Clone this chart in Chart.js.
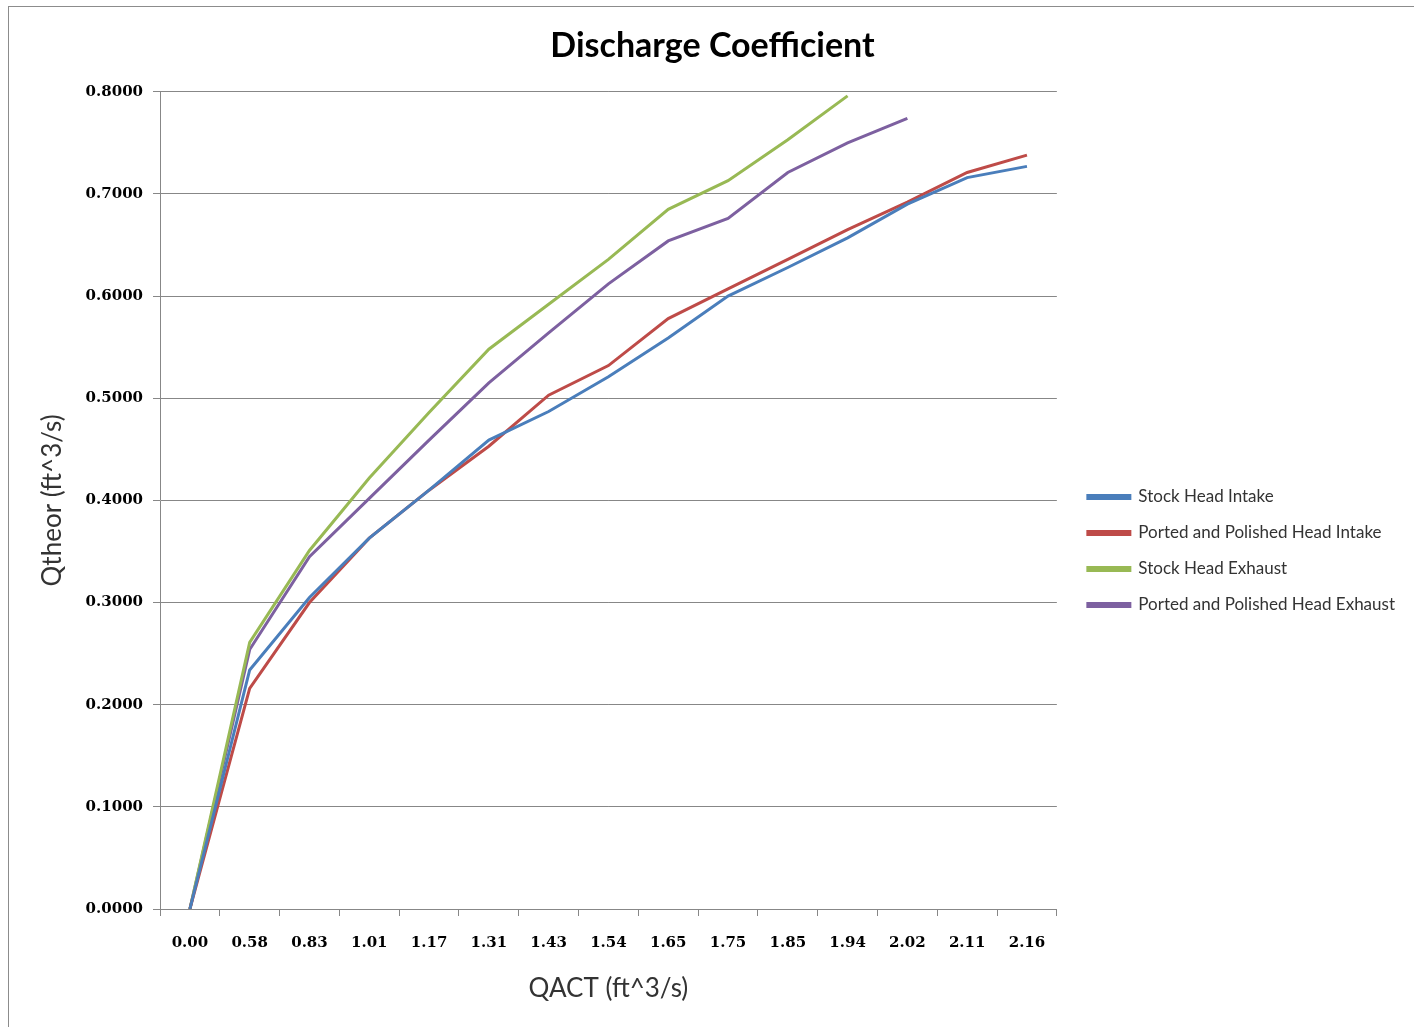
<!DOCTYPE html>
<html>
<head>
<meta charset="utf-8">
<title>Discharge Coefficient</title>
<script src="https://cdn.jsdelivr.net/npm/chart.js@4/dist/chart.umd.min.js"></script>
<style>
  body { margin: 0; background: #fff; }
  #wrap { position: relative; width: 1414px; height: 1027px; }
  #frame { position: absolute; left: 8px; top: 6px; width: 1420px; height: 1030px;
           border-left: 1px solid #8c8c8c; border-top: 1px solid #8c8c8c; pointer-events: none; }
</style>
</head>
<body>
<div id="wrap">
  <canvas id="dc-chart" width="1414" height="1027"></canvas>
  <div id="frame"></div>
</div>
<script>
// chart values
var qact = ["0.00", "0.58", "0.83", "1.01", "1.17", "1.31", "1.43", "1.54", "1.65", "1.75", "1.85", "1.94", "2.02", "2.11", "2.16"];
var stockIntake = [0, 0.234, 0.305, 0.363, 0.410, 0.459, 0.487, 0.521, 0.559, 0.600, 0.628, 0.657, 0.690, 0.716, 0.727];
var portedIntake = [0, 0.216, 0.300, 0.363, 0.410, 0.453, 0.503, 0.532, 0.578, 0.607, 0.636, 0.665, 0.692, 0.721, 0.738];
var stockExhaust = [0, 0.261, 0.351, 0.422, 0.486, 0.548, 0.592, 0.636, 0.685, 0.713, 0.753, 0.796, null, null, null];
var portedExhaust = [0, 0.254, 0.345, 0.402, 0.459, 0.515, 0.564, 0.612, 0.654, 0.676, 0.721, 0.750, 0.774, null, null];
var yTicks = [0, 0.1, 0.2, 0.3, 0.4, 0.5, 0.6, 0.7, 0.8];

var gridColor = "#878787";

function series(label, data, color) {
  return {
    label: label,
    data: data,
    borderColor: color,
    backgroundColor: color,
    borderWidth: 3,
    pointRadius: 0,
    tension: 0,
    spanGaps: false
  };
}

// nudge legend and title sideways, like the original
var boxNudge = {
  id: 'boxNudge',
  afterLayout: function (chart) {
    if (chart.legend) {
      chart.legend.left += 12;
      chart.legend.right += 12;
    }
    if (chart.titleBlock) {
      chart.titleBlock.left += 16;
      chart.titleBlock.right += 16;
    }
  }
};

var ctx = document.getElementById("dc-chart");
var dcChart = new Chart(ctx, {
  type: 'line',
  data: {
    labels: qact,
    datasets: [
      series('Stock Head Intake', stockIntake, "#4a7ebb"),
      series('Ported and Polished Head Intake', portedIntake, "#be4b48"),
      series('Stock Head Exhaust', stockExhaust, "#98b954"),
      series('Ported and Polished Head Exhaust', portedExhaust, "#7d60a0")
    ]
  },
  plugins: [boxNudge],
  options: {
    responsive: false,
    animation: false,
    layout: {
      padding: { left: 0, right: 21, top: 0, bottom: 0 }
    },
    scales: {
      x: {
        type: 'category',
        offset: true,
        grid: {
          offset: true,
          drawOnChartArea: false,
          drawTicks: true,
          tickLength: 7,
          color: gridColor
        },
        border: { display: true, color: gridColor },
        ticks: {
          padding: 18,
          color: "#000",
          maxRotation: 0,
          autoSkip: false,
          font: { family: "DejaVu Serif", size: 15, weight: 'bold' }
        },
        title: {
          display: true,
          text: 'QACT (ft^3/s)',
          color: "#333",
          font: { family: "Lato", size: 26 },
          padding: { top: 0, bottom: 23 }
        },
        afterFit: function (scale) { scale.height = 118; }
      },
      y: {
        min: 0,
        max: 0.8,
        afterBuildTicks: function (scale) {
          scale.ticks = yTicks.map(function (v) { return { value: v }; });
        },
        grid: {
          color: gridColor,
          tickLength: 7,
          drawTicks: true
        },
        border: { display: true, color: gridColor },
        ticks: {
          padding: 10,
          color: "#000",
          font: { family: "DejaVu Serif", size: 15, weight: 'bold' },
          callback: function (v) { return Number(v).toFixed(4); }
        },
        title: {
          display: true,
          text: 'Qtheor (ft^3/s)',
          color: "#333",
          font: { family: "Lato", size: 26 },
          padding: { top: 37, bottom: 0 }
        },
        afterFit: function (scale) { scale.width = 160; }
      }
    },
    plugins: {
      title: {
        display: true,
        text: 'Discharge Coefficient',
        color: "#000",
        font: { family: "Lato", size: 34, weight: 'bold' },
        padding: { top: 26, bottom: 25 }
      },
      legend: {
        display: true,
        position: 'right',
        align: 'center',
        title: {
          display: true,
          text: ' ',
          font: { size: 10, lineHeight: 1 },
          padding: { top: 0, bottom: 65 }
        },
        labels: {
          boxWidth: 42,
          boxHeight: 3,
          padding: 19,
          color: "#333",
          font: { family: "Lato", size: 17 }
        }
      },
      tooltip: { enabled: false }
    }
  }
});
</script>
</body>
</html>
